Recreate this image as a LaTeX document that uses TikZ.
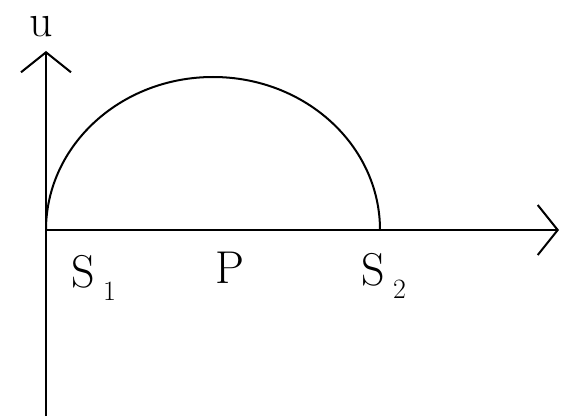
\documentclass[tikz,border=0pt]{standalone}
\usetikzlibrary{arrows.meta}
\newcommand{\lowsub}[1]{\raisebox{-0.3em}{\fontsize{28}{30}\selectfont #1}}

\begin{document}
\begin{tikzpicture}[
    x=1pt, y=-1pt,
    every node/.style={font=\fontsize{46}{50}\selectfont, inner sep=0pt},
    axis/.style={line width=2.6pt},
    >={Straight Barb[length=20pt, width=50pt, line width=2pt]}
]
\useasboundingbox (0,0) rectangle (561,417);

\coordinate (origin) at (46,230);
\coordinate (ybot) at (46,416);
\coordinate (ytop) at (46,51);
\coordinate (xend) at (559,230);

% axes
\draw[axis, ->] (ybot) -- (ytop);
\draw[axis, ->] (origin) -- (xend);

% the arch
\draw[line width=2pt] (origin) arc[start angle=180, end angle=0, x radius=167, y radius=-153];

% labels
\node (u) at (41,27) {u};
\node (s1) at (94,278) {S\,\lowsub{1}};
\node (p) at (230,268) {P};
\node (s2) at (384,276) {S\,\lowsub{2}};

\end{tikzpicture}
\end{document}
